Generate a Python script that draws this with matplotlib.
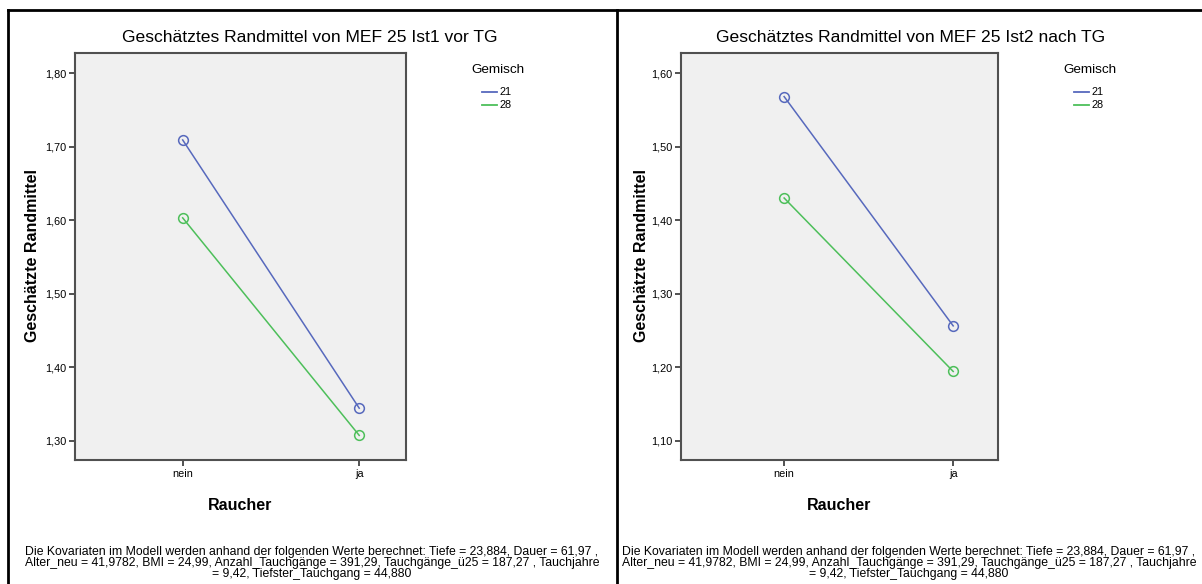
import matplotlib
matplotlib.use("Agg")
import matplotlib.pyplot as plt
from matplotlib.lines import Line2D

plt.rcParams['font.family'] = ['Liberation Sans', 'DejaVu Sans']

# data
categories = ["nein", "ja"]
groups = ["21", "28"]
titles = ["Geschätztes Randmittel von MEF 25 Ist1 vor TG",
          "Geschätztes Randmittel von MEF 25 Ist2 nach TG"]
left_21 = [1.709, 1.344]
left_28 = [1.603, 1.307]
right_21 = [1.568, 1.256]
right_28 = [1.430, 1.194]
left_ticks = [1.30, 1.40, 1.50, 1.60, 1.70, 1.80]
right_ticks = [1.10, 1.20, 1.30, 1.40, 1.50, 1.60]
footnote = ("Die Kovariaten im Modell werden anhand der folgenden Werte berechnet: Tiefe = 23,884, Dauer = 61,97 ,\n"
            "Alter_neu = 41,9782, BMI = 24,99, Anzahl_Tauchgänge = 391,29, Tauchgänge_ü25 = 187,27 , Tauchjahre\n"
            "= 9,42, Tiefster_Tauchgang = 44,880")

W, H = 1202, 584
fig = plt.figure(figsize=(W / 100, H / 100), dpi=100)

blue = '#5769BD'
green = '#4DBF5A'
spine_col = '#505050'


def fx(px):
    return px / W


def fy(py):
    return 1 - py / H


panels = [
    dict(x0=75, x1=406, ylim=(1.2735, 1.828), ticks=left_ticks,
         s21=left_21, s28=left_28, title=titles[0], cx=310, fx_=312, ylab_x=33, leg_x=471),
    dict(x0=681, x1=998, ylim=(1.0735, 1.628), ticks=right_ticks,
         s21=right_21, s28=right_28, title=titles[1], cx=911, fx_=909, ylab_x=641, leg_x=1063),
]

xs = list(range(len(categories)))
for p in panels:
    ax = fig.add_axes([fx(p['x0']), fy(460), fx(p['x1'] - p['x0']), (460 - 52.5) / H])
    ax.set_facecolor('#F0F0F0')
    ax.plot(xs, p['s21'], color=blue, lw=1.1)
    ax.plot(xs, p['s28'], color=green, lw=1.1)
    ax.plot(xs, p['s21'], 'o', color=blue, mfc='none', ms=7, mew=1.1)
    ax.plot(xs, p['s28'], 'o', color=green, mfc='none', ms=7, mew=1.1)
    ax.set_xlim(-0.61, 1.265)
    ax.set_ylim(*p['ylim'])
    ax.set_xticks(xs)
    ax.set_xticklabels(categories)
    ax.set_yticks(p['ticks'])
    ax.set_yticklabels([f"{t:.2f}".replace('.', ',') for t in p['ticks']])
    ax.tick_params(length=4.5, width=1.2, color='#333333', labelsize=7.8, pad=2)
    for s in ax.spines.values():
        s.set_color(spine_col)
        s.set_linewidth(1.5)
    ax.set_xlabel("Raucher", fontsize=11.5, fontweight='bold')
    ax.xaxis.set_label_coords(0.5, -(505 - 460) / (460 - 52.5), transform=ax.transAxes)
    ax.xaxis.label.set_va('center')
    fig.text(fx(p['ylab_x']), fy(256), "Geschätzte Randmittel", rotation=90,
             ha='center', va='center', fontsize=11.5, fontweight='bold')
    fig.text(fx(p['cx']), fy(38), p['title'], ha='center', va='center', fontsize=12.6)
    # legend
    fig.text(fx(p['leg_x']), fy(70), "Gemisch", ha='left', va='center', fontsize=9.7)
    for i, (g, c) in enumerate(zip(groups, [blue, green])):
        yy = fy(92 + 13 * i)
        fig.add_artist(Line2D([fx(p['leg_x'] + 11), fx(p['leg_x'] + 26)], [yy, yy],
                              color=c, lw=1.3))
        fig.text(fx(p['leg_x'] + 28), yy, g, ha='left', va='center', fontsize=7.8)
    fig.text(fx(p['fx_']), fy(563), footnote, ha='center', va='center',
             fontsize=8.8, linespacing=0.93)

# table borders
fig.add_artist(Line2D([fx(8), 1], [fy(10), fy(10)], color='black', lw=2))
fig.add_artist(Line2D([fx(8), fx(8)], [0, fy(10)], color='black', lw=2))
fig.add_artist(Line2D([fx(616.5), fx(616.5)], [0, fy(10)], color='black', lw=2))

fig.savefig("out.png", dpi=100)
